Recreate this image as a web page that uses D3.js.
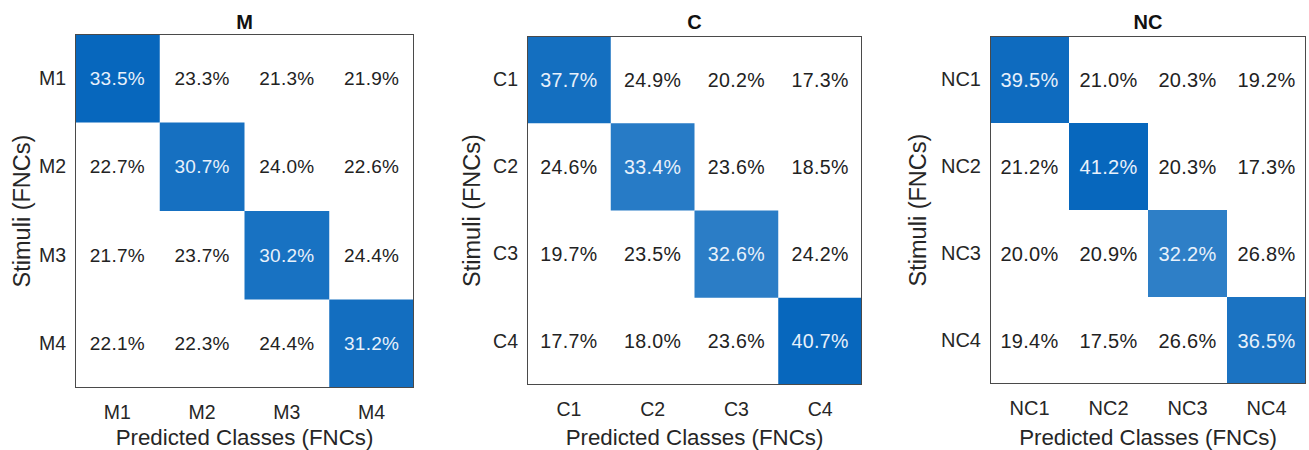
<!DOCTYPE html>
<html>
<head>
<meta charset="utf-8">
<script src="https://cdn.jsdelivr.net/npm/d3@7/dist/d3.min.js"></script>
<style>
  html, body { margin: 0; padding: 0; background: #fff; }
  svg { display: block; font-family: "Liberation Sans", Arial, Helvetica, sans-serif; }
</style>
</head>
<body>
<svg id="chart" width="1309" height="450"></svg>
<script>
// Class labels for each confusion matrix
const mClasses  = ["M1", "M2", "M3", "M4"];
const cClasses  = ["C1", "C2", "C3", "C4"];
const ncClasses = ["NC1", "NC2", "NC3", "NC4"];

// Row-normalised percentages (rows = stimuli, columns = predicted)
const mValues = [
  [33.5, 23.3, 21.3, 21.9],
  [22.7, 30.7, 24.0, 22.6],
  [21.7, 23.7, 30.2, 24.4],
  [22.1, 22.3, 24.4, 31.2]
];
const cValues = [
  [37.7, 24.9, 20.2, 17.3],
  [24.6, 33.4, 23.6, 18.5],
  [19.7, 23.5, 32.6, 24.2],
  [17.7, 18.0, 23.6, 40.7]
];
const ncValues = [
  [39.5, 21.0, 20.3, 19.2],
  [21.2, 41.2, 20.3, 17.3],
  [20.0, 20.9, 32.2, 26.8],
  [19.4, 17.5, 26.6, 36.5]
];

const panelTitles = ["M", "C", "NC"];
const xAxisTitle = "Predicted Classes (FNCs)";
const yAxisTitle = "Stimuli (FNCs)";

// Geometry of each panel's matrix box
const panels = [
  { title: panelTitles[0], classes: mClasses,  values: mValues,
    box: { x0: 75,  x1: 414,  y0: 34, y1: 388 }, yTitleX: 22,  cellFont: 19,   tickFont: 19.5 },
  { title: panelTitles[1], classes: cClasses,  values: cValues,
    box: { x0: 527, x1: 862,  y0: 36, y1: 385 }, yTitleX: 472, cellFont: 19.6, tickFont: 19.5 },
  { title: panelTitles[2], classes: ncClasses, values: ncValues,
    box: { x0: 990, x1: 1306, y0: 36, y1: 384 }, yTitleX: 918, cellFont: 20,   tickFont: 20 }
];

const diagColor = "#0767bd";
const svg = d3.select("#chart");

panels.forEach(p => {
  const g = svg.append("g");
  const { x0, x1, y0, y1 } = p.box;

  const x = d3.scaleBand().domain(p.classes).range([x0, x1]);
  const y = d3.scaleBand().domain(p.classes).range([y0, y1]);

  // Diagonal cells shaded relative to the panel's largest value
  const vmax = d3.max(p.values.flat());
  const color = d3.scalePow().exponent(0.7).domain([0, vmax]).range(["#ffffff", diagColor]);

  const cells = [];
  p.values.forEach((row, i) => row.forEach((v, j) => {
    cells.push({ row: p.classes[i], col: p.classes[j], v, diag: i === j });
  }));

  g.append("rect")
    .attr("x", x0).attr("y", y0)
    .attr("width", x1 - x0).attr("height", y1 - y0)
    .attr("fill", "#fff");

  g.selectAll("rect.cell").data(cells.filter(d => d.diag)).join("rect")
    .attr("class", "cell")
    .attr("x", d => x(d.col)).attr("y", d => y(d.row))
    .attr("width", x.bandwidth()).attr("height", y.bandwidth())
    .attr("fill", d => color(d.v));

  g.selectAll("text.val").data(cells).join("text")
    .attr("class", "val")
    .attr("x", d => x(d.col) + x.bandwidth() / 2)
    .attr("y", d => y(d.row) + y.bandwidth() / 2)
    .attr("text-anchor", "middle")
    .attr("dominant-baseline", "central")
    .attr("font-size", p.cellFont)
    .attr("letter-spacing", 0.3)
    .attr("fill", d => d.diag ? "#e8f1fb" : "#222")
    .text(d => d.v.toFixed(1) + "%");

  // Frame
  g.append("rect")
    .attr("x", x0 + 0.5).attr("y", y0 + 0.5)
    .attr("width", x1 - x0 - 1).attr("height", y1 - y0 - 1)
    .attr("fill", "none").attr("stroke", "#4a4a4a").attr("stroke-width", 1);

  // Axes without tick marks
  const xAxis = g.append("g").attr("transform", `translate(0,${y1})`)
    .call(d3.axisBottom(x).tickSize(0).tickPadding(17));
  const yAxis = g.append("g").attr("transform", `translate(${x0},0)`)
    .call(d3.axisLeft(y).tickSize(0).tickPadding(9));
  [xAxis, yAxis].forEach(a => {
    a.select(".domain").remove();
    a.selectAll("text").attr("font-size", p.tickFont).attr("fill", "#262626")
      .attr("font-family", "'Liberation Sans', Arial, sans-serif");
  });

  // Titles
  g.append("text")
    .attr("x", (x0 + x1) / 2).attr("y", 29)
    .attr("text-anchor", "middle")
    .attr("font-size", 20).attr("font-weight", "bold").attr("fill", "#111")
    .text(p.title);

  g.append("text")
    .attr("x", (x0 + x1) / 2).attr("y", 445)
    .attr("text-anchor", "middle")
    .attr("font-size", 22.3).attr("fill", "#262626")
    .text(xAxisTitle);

  g.append("text")
    .attr("transform", `translate(${p.yTitleX},${(y0 + y1) / 2}) rotate(-90)`)
    .attr("text-anchor", "middle")
    .attr("dominant-baseline", "central")
    .attr("font-size", 23.5).attr("fill", "#262626")
    .text(yAxisTitle);
});
</script>
</body>
</html>
